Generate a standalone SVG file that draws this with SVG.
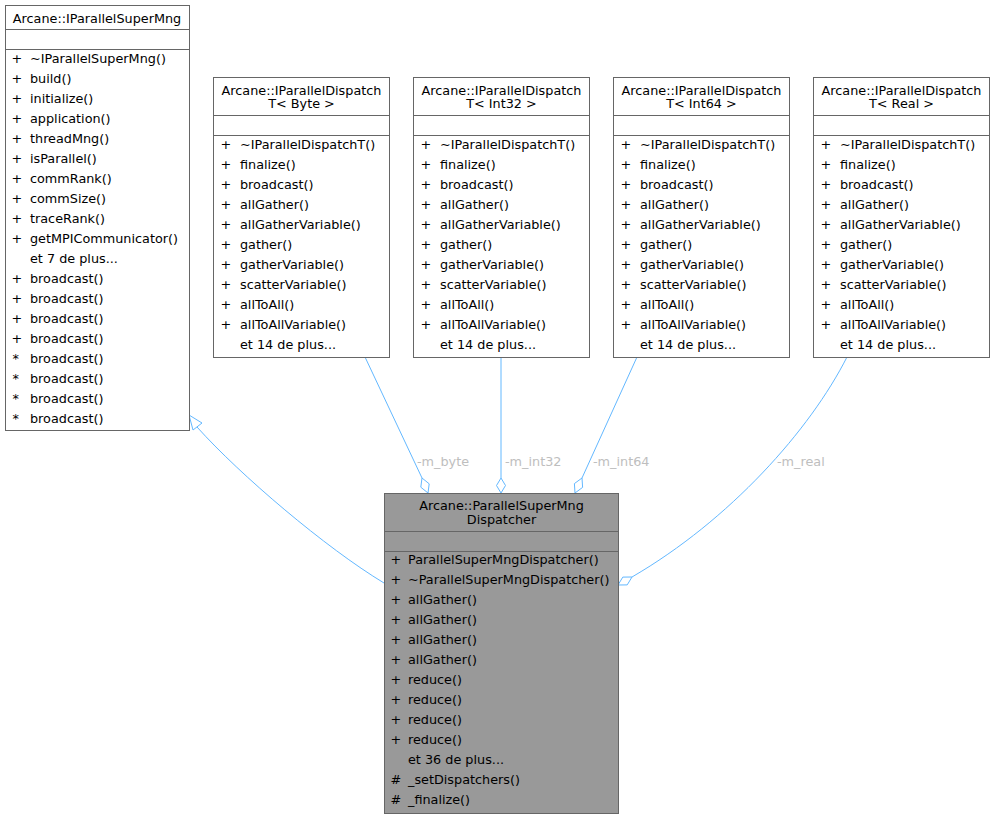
<svg xmlns="http://www.w3.org/2000/svg" width="995" height="819" viewBox="0 0 995 819">
<style>
text{font-family:"DejaVu Sans","Liberation Sans",sans-serif;font-size:12.8px;fill:#000}
.t{text-anchor:middle}
.box{fill:#fff;stroke:#666;stroke-width:1}
.main{fill:#999;stroke:#666;stroke-width:1}
.sep{stroke:#666;stroke-width:1}
.e{fill:none;stroke:#63b8ff;stroke-width:1}
.ah{fill:#fff;stroke:#63b8ff;stroke-width:1}
.lbl{fill:#bebebe}
</style>
<rect width="995" height="819" fill="#fff"/>
<g id="connectors">
<path class="e" d="M384,583 C326,548 240,475 197,427"/>
<polygon class="ah" points="189,415 193,430 202,423"/>
<path class="e" d="M365,357 L422,478"/>
<polygon class="ah" points="422,478 429.2,483.8 428,493 420.8,487.2"/>
<text class="lbl" x="417" y="465.5">-m_byte</text>
<path class="e" d="M501,357 L501,478"/>
<polygon class="ah" points="501,478 505.5,485.5 501,493 496.5,485.5"/>
<text class="lbl" x="505" y="465.5">-m_int32</text>
<path class="e" d="M637,357 L582,478"/>
<polygon class="ah" points="582,478 582.6,487.4 575,493 574.4,483.6"/>
<text class="lbl" x="593" y="465.5">-m_int64</text>
<path class="e" d="M847,357 C810,430 730,520 632,577"/>
<polygon class="ah" points="632,577 627.2,584.9 618,585 622.8,577.1"/>
<text class="lbl" x="777" y="465.5">-m_real</text>
</g>
<g id="IParallelSuperMng">
<rect class="box" x="5.5" y="5.5" width="184" height="425"/>
<line class="sep" x1="5.5" y1="29.5" x2="189.5" y2="29.5"/>
<line class="sep" x1="5.5" y1="49.5" x2="189.5" y2="49.5"/>
<text class="t" x="97" y="22.5">Arcane::IParallelSuperMng</text>
<text x="11.5" y="62.5">+</text><text x="30" y="62.5">~IParallelSuperMng()</text>
<text x="11.5" y="82.5">+</text><text x="30" y="82.5">build()</text>
<text x="11.5" y="102.5">+</text><text x="30" y="102.5">initialize()</text>
<text x="11.5" y="122.5">+</text><text x="30" y="122.5">application()</text>
<text x="11.5" y="142.5">+</text><text x="30" y="142.5">threadMng()</text>
<text x="11.5" y="162.5">+</text><text x="30" y="162.5">isParallel()</text>
<text x="11.5" y="182.5">+</text><text x="30" y="182.5">commRank()</text>
<text x="11.5" y="202.5">+</text><text x="30" y="202.5">commSize()</text>
<text x="11.5" y="222.5">+</text><text x="30" y="222.5">traceRank()</text>
<text x="11.5" y="242.5">+</text><text x="30" y="242.5">getMPICommunicator()</text>
<text x="30" y="262.5">et 7 de plus...</text>
<text x="11.5" y="282.5">+</text><text x="30" y="282.5">broadcast()</text>
<text x="11.5" y="302.5">+</text><text x="30" y="302.5">broadcast()</text>
<text x="11.5" y="322.5">+</text><text x="30" y="322.5">broadcast()</text>
<text x="11.5" y="342.5">+</text><text x="30" y="342.5">broadcast()</text>
<text x="12.5" y="362.5">*</text><text x="30" y="362.5">broadcast()</text>
<text x="12.5" y="382.5">*</text><text x="30" y="382.5">broadcast()</text>
<text x="12.5" y="402.5">*</text><text x="30" y="402.5">broadcast()</text>
<text x="12.5" y="422.5">*</text><text x="30" y="422.5">broadcast()</text>
</g>
<g id="DispatchByte">
<rect class="box" x="213.5" y="77.5" width="176" height="280"/>
<line class="sep" x1="213.5" y1="115.5" x2="389.5" y2="115.5"/>
<line class="sep" x1="213.5" y1="135.5" x2="389.5" y2="135.5"/>
<text class="t" x="301.5" y="94.5">Arcane::IParallelDispatch</text>
<text class="t" x="301.5" y="108">T&lt; Byte &gt;</text>
<text x="220.5" y="149">+</text><text x="240" y="149">~IParallelDispatchT()</text>
<text x="220.5" y="169">+</text><text x="240" y="169">finalize()</text>
<text x="220.5" y="189">+</text><text x="240" y="189">broadcast()</text>
<text x="220.5" y="209">+</text><text x="240" y="209">allGather()</text>
<text x="220.5" y="229">+</text><text x="240" y="229">allGatherVariable()</text>
<text x="220.5" y="249">+</text><text x="240" y="249">gather()</text>
<text x="220.5" y="269">+</text><text x="240" y="269">gatherVariable()</text>
<text x="220.5" y="289">+</text><text x="240" y="289">scatterVariable()</text>
<text x="220.5" y="309">+</text><text x="240" y="309">allToAll()</text>
<text x="220.5" y="329">+</text><text x="240" y="329">allToAllVariable()</text>
<text x="240" y="349">et 14 de plus...</text>
</g>
<g id="DispatchInt32">
<rect class="box" x="413.5" y="77.5" width="176" height="280"/>
<line class="sep" x1="413.5" y1="115.5" x2="589.5" y2="115.5"/>
<line class="sep" x1="413.5" y1="135.5" x2="589.5" y2="135.5"/>
<text class="t" x="501.5" y="94.5">Arcane::IParallelDispatch</text>
<text class="t" x="501.5" y="108">T&lt; Int32 &gt;</text>
<text x="420.5" y="149">+</text><text x="440" y="149">~IParallelDispatchT()</text>
<text x="420.5" y="169">+</text><text x="440" y="169">finalize()</text>
<text x="420.5" y="189">+</text><text x="440" y="189">broadcast()</text>
<text x="420.5" y="209">+</text><text x="440" y="209">allGather()</text>
<text x="420.5" y="229">+</text><text x="440" y="229">allGatherVariable()</text>
<text x="420.5" y="249">+</text><text x="440" y="249">gather()</text>
<text x="420.5" y="269">+</text><text x="440" y="269">gatherVariable()</text>
<text x="420.5" y="289">+</text><text x="440" y="289">scatterVariable()</text>
<text x="420.5" y="309">+</text><text x="440" y="309">allToAll()</text>
<text x="420.5" y="329">+</text><text x="440" y="329">allToAllVariable()</text>
<text x="440" y="349">et 14 de plus...</text>
</g>
<g id="DispatchInt64">
<rect class="box" x="613.5" y="77.5" width="176" height="280"/>
<line class="sep" x1="613.5" y1="115.5" x2="789.5" y2="115.5"/>
<line class="sep" x1="613.5" y1="135.5" x2="789.5" y2="135.5"/>
<text class="t" x="701.5" y="94.5">Arcane::IParallelDispatch</text>
<text class="t" x="701.5" y="108">T&lt; Int64 &gt;</text>
<text x="620.5" y="149">+</text><text x="640" y="149">~IParallelDispatchT()</text>
<text x="620.5" y="169">+</text><text x="640" y="169">finalize()</text>
<text x="620.5" y="189">+</text><text x="640" y="189">broadcast()</text>
<text x="620.5" y="209">+</text><text x="640" y="209">allGather()</text>
<text x="620.5" y="229">+</text><text x="640" y="229">allGatherVariable()</text>
<text x="620.5" y="249">+</text><text x="640" y="249">gather()</text>
<text x="620.5" y="269">+</text><text x="640" y="269">gatherVariable()</text>
<text x="620.5" y="289">+</text><text x="640" y="289">scatterVariable()</text>
<text x="620.5" y="309">+</text><text x="640" y="309">allToAll()</text>
<text x="620.5" y="329">+</text><text x="640" y="329">allToAllVariable()</text>
<text x="640" y="349">et 14 de plus...</text>
</g>
<g id="DispatchReal">
<rect class="box" x="813.5" y="77.5" width="176" height="280"/>
<line class="sep" x1="813.5" y1="115.5" x2="989.5" y2="115.5"/>
<line class="sep" x1="813.5" y1="135.5" x2="989.5" y2="135.5"/>
<text class="t" x="901.5" y="94.5">Arcane::IParallelDispatch</text>
<text class="t" x="901.5" y="108">T&lt; Real &gt;</text>
<text x="820.5" y="149">+</text><text x="840" y="149">~IParallelDispatchT()</text>
<text x="820.5" y="169">+</text><text x="840" y="169">finalize()</text>
<text x="820.5" y="189">+</text><text x="840" y="189">broadcast()</text>
<text x="820.5" y="209">+</text><text x="840" y="209">allGather()</text>
<text x="820.5" y="229">+</text><text x="840" y="229">allGatherVariable()</text>
<text x="820.5" y="249">+</text><text x="840" y="249">gather()</text>
<text x="820.5" y="269">+</text><text x="840" y="269">gatherVariable()</text>
<text x="820.5" y="289">+</text><text x="840" y="289">scatterVariable()</text>
<text x="820.5" y="309">+</text><text x="840" y="309">allToAll()</text>
<text x="820.5" y="329">+</text><text x="840" y="329">allToAllVariable()</text>
<text x="840" y="349">et 14 de plus...</text>
</g>
<g id="ParallelSuperMngDispatcher">
<rect class="main" x="384.5" y="493.5" width="234" height="320"/>
<line class="sep" x1="384.5" y1="531.5" x2="618.5" y2="531.5"/>
<line class="sep" x1="384.5" y1="551.5" x2="618.5" y2="551.5"/>
<text class="t" x="501.5" y="509.5">Arcane::ParallelSuperMng</text>
<text class="t" x="501.5" y="523.5">Dispatcher</text>
<text x="390.5" y="564">+</text><text x="408" y="564">ParallelSuperMngDispatcher()</text>
<text x="390.5" y="584">+</text><text x="408" y="584">~ParallelSuperMngDispatcher()</text>
<text x="390.5" y="604">+</text><text x="408" y="604">allGather()</text>
<text x="390.5" y="624">+</text><text x="408" y="624">allGather()</text>
<text x="390.5" y="644">+</text><text x="408" y="644">allGather()</text>
<text x="390.5" y="664">+</text><text x="408" y="664">allGather()</text>
<text x="390.5" y="684">+</text><text x="408" y="684">reduce()</text>
<text x="390.5" y="704">+</text><text x="408" y="704">reduce()</text>
<text x="390.5" y="724">+</text><text x="408" y="724">reduce()</text>
<text x="390.5" y="744">+</text><text x="408" y="744">reduce()</text>
<text x="408" y="764">et 36 de plus...</text>
<text x="390.5" y="784">#</text><text x="408" y="784">_setDispatchers()</text>
<text x="390.5" y="804">#</text><text x="408" y="804">_finalize()</text>
</g>
</svg>
